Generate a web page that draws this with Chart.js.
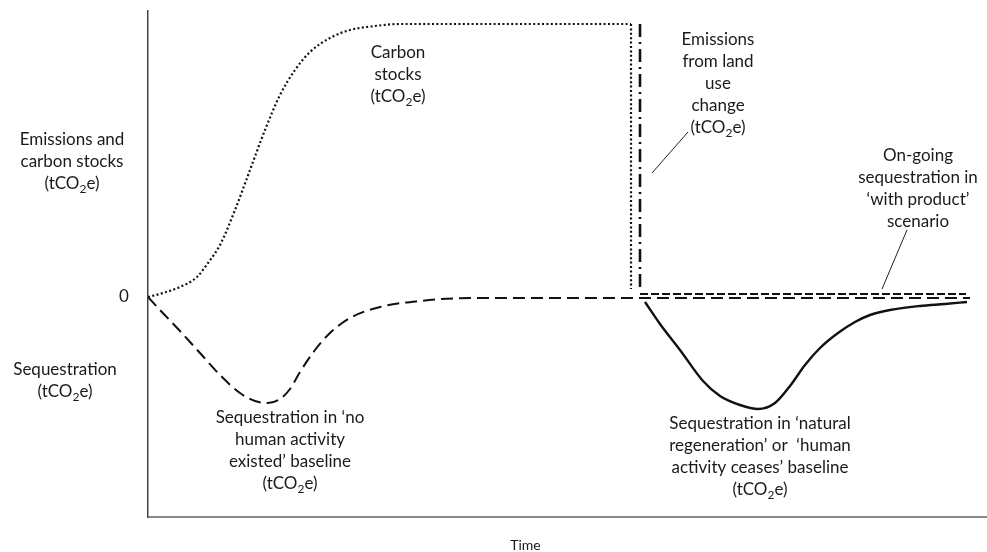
<!DOCTYPE html>
<html>
<head>
<meta charset="utf-8">
<script src="https://cdn.jsdelivr.net/npm/chart.js@4.4.1/dist/chart.umd.min.js"></script>
<style>
  html, body { margin: 0; padding: 0; background: #ffffff; }
  #wrap { width: 987px; height: 552px; position: relative; }
</style>
</head>
<body>
<div id="wrap"><canvas id="c" width="987" height="552"></canvas></div>
<script>
// ---- Data (time units along x, tCO2e level along y; 0 = zero line) ----
const carbonStockTime  = [0, 15, 32, 49, 60, 72, 87, 102, 117, 132, 147, 162, 182, 202, 227, 252, 483];
const carbonStockLevel = [0, 4, 10, 20, 34, 52, 87, 127, 167, 202, 227, 245, 259, 267, 271, 273, 273];
const carbonDropTime   = [483, 483];
const carbonDropLevel  = [273, 8];

const lucEmissionTime  = [492, 492];
const lucEmissionLevel = [273, 5];

const withProductTime  = [492, 818];
const withProductLevel = [3, 3];

const noHumanTime  = [0, 12, 32, 52, 72, 92, 107, 120, 132, 142, 152, 167, 182, 202, 232, 272, 322, 382, 822];
const noHumanLevel = [0, -13, -34, -56, -78, -96, -104, -106, -102, -92, -75, -53, -36, -21, -10, -4, -1, -1, -1];

const naturalRegenTime  = [497, 512, 532, 555, 572, 592, 610, 627, 642, 657, 672, 690, 707, 722, 742, 772, 797, 819];
const naturalRegenLevel = [-5, -27, -53, -84, -99, -108, -112, -106, -89, -68, -51, -36, -25, -18, -13, -9, -7, -5];

const timeRange  = [0, 839];
const levelRange = [-220, 286];

const zip = (xs, ys) => xs.map((x, i) => ({ x: x, y: ys[i] }));

// ---- Annotation text (lines; "₂" marks a subscript 2) ----
const labels = [
  { at: [250, 244], lines: ['Carbon', 'stocks', '(tCO₂e)'] },
  { at: [570, 257], lines: ['Emissions', 'from land', 'use', 'change', '(tCO₂e)'] },
  { at: [770, 141], lines: ['On-going', 'sequestration in', '‘with product’', 'scenario'] },
  { at: [142, -121], lines: ['Sequestration in ‘no', 'human activity', 'existed’ baseline', '(tCO₂e)'] },
  { at: [612, -127], lines: ['Sequestration in ‘natural', 'regeneration’ or  ‘human', 'activity ceases’ baseline', '(tCO₂e)'] }
];
const leaders = [
  { from: [540, 165], to: [504, 124] },
  { from: [759, 67], to: [734, 8] }
];

const FONT = '17px Lato, "Open Sans", sans-serif';
const SUBFONT = '12px Lato, "Open Sans", sans-serif';
const LINE_H = 22;

function drawRich(ctx, text, cx, cy) {
  const parts = text.split('₂');
  let total = 0;
  const widths = [];
  parts.forEach((p, i) => {
    ctx.font = FONT; const w = ctx.measureText(p).width; widths.push(w); total += w;
    if (i < parts.length - 1) { ctx.font = SUBFONT; total += ctx.measureText('2').width; }
  });
  let x = cx - total / 2;
  ctx.textAlign = 'left';
  ctx.textBaseline = 'middle';
  parts.forEach((p, i) => {
    ctx.font = FONT; ctx.fillText(p, x, cy); x += widths[i];
    if (i < parts.length - 1) {
      ctx.font = SUBFONT; ctx.fillText('2', x, cy + 5); x += ctx.measureText('2').width;
    }
  });
}

const annotate = {
  id: 'annotate',
  afterDraw(chart) {
    const ctx = chart.ctx;
    const xs = chart.scales.x, ys = chart.scales.y;
    ctx.save();
    ctx.fillStyle = '#1a1a1a';
    labels.forEach(l => {
      const cx = xs.getPixelForValue(l.at[0]);
      const cy = ys.getPixelForValue(l.at[1]);
      l.lines.forEach((t, i) => drawRich(ctx, t, cx, cy + i * LINE_H));
    });
    // axis side labels
    const zeroY = ys.getPixelForValue(0);
    drawRich(ctx, 'Emissions and', 72, zeroY - 157);
    drawRich(ctx, 'carbon stocks', 72, zeroY - 135);
    drawRich(ctx, '(tCO₂e)', 72, zeroY - 113);
    drawRich(ctx, '0', 124, zeroY);
    drawRich(ctx, 'Sequestration', 65, zeroY + 73);
    drawRich(ctx, '(tCO₂e)', 65, zeroY + 95);
    ctx.font = '14px Lato, "Open Sans", sans-serif';
    ctx.textAlign = 'center';
    ctx.fillText('Time', (xs.left + xs.right) / 2 - 42, xs.bottom + 28);
    // leader lines
    ctx.strokeStyle = '#222';
    ctx.lineWidth = 1;
    leaders.forEach(d => {
      ctx.beginPath();
      ctx.moveTo(xs.getPixelForValue(d.from[0]), ys.getPixelForValue(d.from[1]));
      ctx.lineTo(xs.getPixelForValue(d.to[0]), ys.getPixelForValue(d.to[1]));
      ctx.stroke();
    });
    ctx.restore();
  }
};

const base = { pointRadius: 0, fill: false, borderColor: '#111', borderCapStyle: 'butt' };

new Chart(document.getElementById('c'), {
  type: 'line',
  data: {
    datasets: [
      Object.assign({}, base, { label: 'Carbon stocks', data: zip(carbonStockTime, carbonStockLevel), borderWidth: 2.2, borderDash: [2, 2.4], cubicInterpolationMode: 'monotone' }),
      Object.assign({}, base, { label: 'Carbon stocks drop', data: zip(carbonDropTime, carbonDropLevel), borderWidth: 2.2, borderDash: [2, 2.4], tension: 0 }),
      Object.assign({}, base, { label: 'Emissions from land use change', data: zip(lucEmissionTime, lucEmissionLevel), borderWidth: 2.6, borderDash: [13, 5, 2, 5], tension: 0 }),
      Object.assign({}, base, { label: 'With product', data: zip(withProductTime, withProductLevel), borderWidth: 1.8, borderDash: [8, 3], tension: 0 }),
      Object.assign({}, base, { label: 'No human activity baseline', data: zip(noHumanTime, noHumanLevel), borderWidth: 2, borderDash: [12, 6], cubicInterpolationMode: 'monotone' }),
      Object.assign({}, base, { label: 'Natural regeneration baseline', data: zip(naturalRegenTime, naturalRegenLevel), borderWidth: 2.4, cubicInterpolationMode: 'monotone' })
    ]
  },
  options: {
    responsive: false,
    animation: false,
    devicePixelRatio: 1,
    layout: { padding: { left: 148, top: 11, right: 0, bottom: 35 } },
    plugins: { legend: { display: false }, tooltip: { enabled: false } },
    scales: {
      x: {
        type: 'linear', min: timeRange[0], max: timeRange[1],
        grid: { display: false, drawTicks: false },
        ticks: { display: false },
        border: { display: true, color: '#8a8a8a', width: 2 }
      },
      y: {
        type: 'linear', min: levelRange[0], max: levelRange[1],
        grid: { display: false, drawTicks: false },
        ticks: { display: false },
        border: { display: true, color: '#444', width: 1.5 }
      }
    }
  },
  plugins: [annotate]
});
</script>
</body>
</html>
